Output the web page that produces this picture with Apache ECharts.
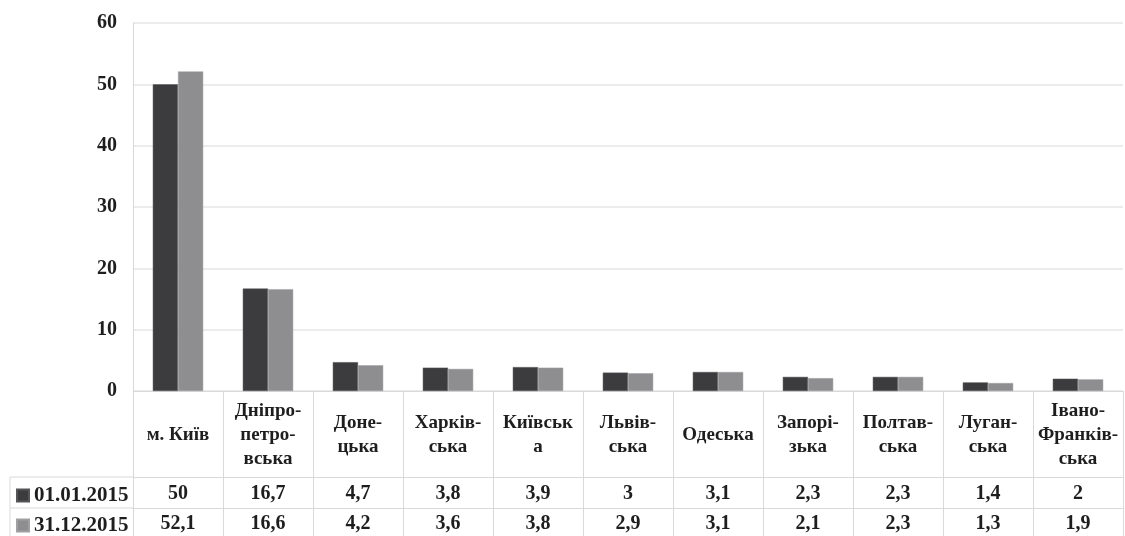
<!DOCTYPE html>
<html><head><meta charset="utf-8">
<script src="https://cdn.jsdelivr.net/npm/echarts@6/dist/echarts.min.js"></script>
<style>html,body{margin:0;padding:0;background:#fff}#c{width:1125px;height:536px}</style>
</head><body><div id="c"></div>
<script>
const categories = ["м. Київ","Дніпро-\nпетро-\nвська","Доне-\nцька","Харків-\nська","Київськ\nа","Львів-\nська","Одеська","Запорі-\nзька","Полтав-\nська","Луган-\nська","Івано-\nФранків-\nська"];
const seriesNames = ["01.01.2015","31.12.2015"];
const values2015start = [50,16.7,4.7,3.8,3.9,3,3.1,2.3,2.3,1.4,2];
const values2015end = [52.1,16.6,4.2,3.6,3.8,2.9,3.1,2.1,2.3,1.3,1.9];
const yTicks = {min:0,max:60,interval:10};

const FONT = "Liberation Serif";
const LINE = "#d9d9d9";
const TXT = "#1e1e1e";
const fmt = v => String(v).replace('.', ',');

const chart = echarts.init(document.getElementById('c'));
const valueAxis = (offset, arr, margin) => ({
  type:'category', data:categories, gridIndex:0, position:'bottom', offset:offset,
  axisLine:{show:true,lineStyle:{color:LINE,width:1}},
  axisTick:{show:false},
  axisLabel:{interval:0,margin:margin,verticalAlign:'middle',fontFamily:FONT,fontWeight:'bold',fontSize:20,color:TXT,
    formatter:(v,i)=>fmt(arr[i])}
});
chart.setOption({
  animation:false,
  backgroundColor:'#fff',
  grid:{left:133,right:2,top:23,bottom:145,containLabel:false},
  legend:{orient:'vertical',left:16,top:485,padding:0,itemWidth:12,itemHeight:12,itemGap:9,icon:'rect',
    textStyle:{fontFamily:FONT,fontWeight:'bold',fontSize:21,color:TXT,lineHeight:21},
    data:seriesNames},
  xAxis:[
    {type:'category',data:categories,gridIndex:0,position:'bottom',
     axisLine:{show:true,lineStyle:{color:LINE,width:1}},
     axisTick:{show:true,interval:0,length:145,lineStyle:{color:LINE,width:1}},
     axisLabel:{interval:0,margin:44,verticalAlign:'middle',lineHeight:24,fontFamily:FONT,fontWeight:'bold',fontSize:19,color:TXT}},
    valueAxis(86, values2015start, 17),
    valueAxis(117, values2015end, 16)
  ],
  yAxis:{type:'value',min:yTicks.min,max:yTicks.max,interval:yTicks.interval,
    axisLine:{show:true,lineStyle:{color:LINE}},axisTick:{show:false},
    splitLine:{lineStyle:{color:'#e6e6e6',width:1.5}},
    axisLabel:{margin:16,fontFamily:FONT,fontWeight:'bold',fontSize:20,color:TXT}},
  series:[
    {name:seriesNames[0],type:'bar',xAxisIndex:0,data:values2015start,barGap:'0%',barCategoryGap:'44%',
     itemStyle:{color:'#3c3c3e',borderColor:'#555557',borderWidth:0.5}},
    {name:seriesNames[1],type:'bar',xAxisIndex:0,data:values2015end,barGap:'0%',barCategoryGap:'44%',
     itemStyle:{color:'#8e8e90',borderColor:'#a0a0a2',borderWidth:0.5}}
  ],
  graphic:[
    {type:'line',shape:{x1:10,y1:477,x2:133,y2:477},style:{stroke:LINE,lineWidth:1}},
    {type:'line',shape:{x1:10,y1:508,x2:133,y2:508},style:{stroke:LINE,lineWidth:1}},
    {type:'line',shape:{x1:10,y1:477,x2:10,y2:536},style:{stroke:LINE,lineWidth:1}}
  ]
});
</script></body></html>
